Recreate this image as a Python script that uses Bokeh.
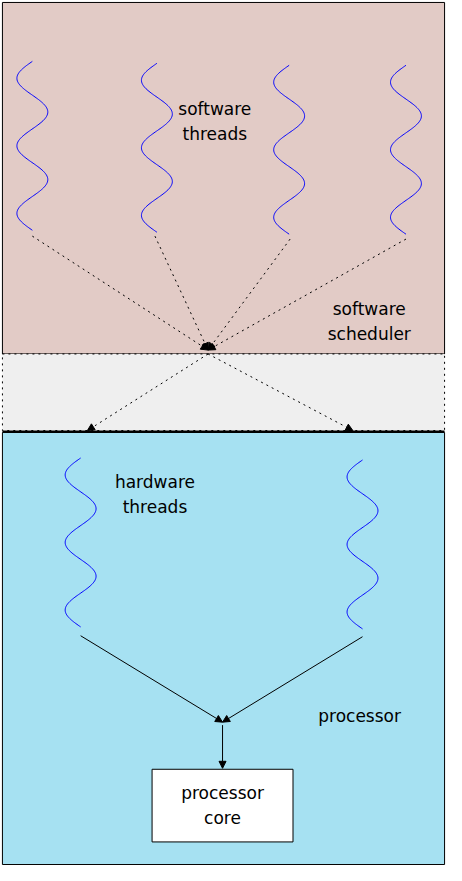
import numpy as np
from bokeh.core.properties import value
from bokeh.embed import file_html
from bokeh.models import Arrow, NormalHead, Range1d
from bokeh.plotting import figure
from bokeh.resources import INLINE

# regions: (top, bottom, colour)
region_tops = [2, 360, 440]
region_bottoms = [360, 438, 880]
region_colors = ["#e2cbc6", "#efefef", "#a6e1f2"]

# thread squiggles: x centre, y start, y end
sw_thread_x = [33, 162, 299, 420]
sw_thread_y0 = [62, 64, 66, 66]
sw_thread_y1 = [234, 236, 238, 238]
hw_thread_x = [83, 375]
hw_thread_y0 = [466, 468]
hw_thread_y1 = [638, 640]

# scheduler arrows (dotted)
sched_in_x = [33, 160, 300, 420]
sched_in_y = [240, 240, 243, 243]
sched_hub = (215, 356)
sched_out_x = [90, 365]
sched_out_y = [438, 438]

# processor arrows (solid)
proc_in_x = [83, 375]
proc_in_y = [647, 648]
proc_hub = (230, 735)

labels = ["software\nthreads", "software\nscheduler", "hardware\nthreads", "processor", "processor\ncore"]
label_x = [222, 382, 160, 372, 230]
label_y = [123, 327, 503, 729, 820]

p = figure(width=446, height=865, output_backend="svg", toolbar_location=None,
           x_range=Range1d(0, 462), y_range=Range1d(881, 0), min_border=0)
p.axis.visible = False
p.grid.visible = False
p.outline_line_color = None

for t, b, c in zip(region_tops, region_bottoms, region_colors):
    p.quad(left=2, right=460, top=t, bottom=b, fill_color=c, line_color="black",
           line_width=1, line_dash="dotted" if c == "#efefef" else "solid")
p.segment(x0=2, y0=439, x1=460, y1=439, line_color="black", line_width=2)


def squiggle(xc, y0, y1):
    y = np.linspace(y0, y1, 200)
    x = xc - 16 * np.sin((y - y0) / (y1 - y0) * 2.5 * 2 * np.pi)
    p.line(x, y, line_color="blue", line_width=1)


for xc, a, b in zip(sw_thread_x, sw_thread_y0, sw_thread_y1):
    squiggle(xc, a, b)
for xc, a, b in zip(hw_thread_x, hw_thread_y0, hw_thread_y1):
    squiggle(xc, a, b)


def arrow(x0, y0, x1, y1, dash="solid"):
    p.add_layout(Arrow(end=NormalHead(size=7, fill_color="black", line_color="black"),
                       x_start=x0, y_start=y0, x_end=x1, y_end=y1,
                       line_dash=dash, line_width=1))


for x, y in zip(sched_in_x, sched_in_y):
    arrow(x, y, sched_hub[0], sched_hub[1], "dotted")
for x, y in zip(sched_out_x, sched_out_y):
    arrow(sched_hub[0], sched_hub[1] + 4, x, y, "dotted")
for x, y in zip(proc_in_x, proc_in_y):
    arrow(x, y, proc_hub[0], proc_hub[1])
arrow(230, 738, 230, 782)

p.quad(left=157, right=303, top=783, bottom=857, fill_color="white", line_color="black")

p.text(x=label_x, y=label_y, text=labels, text_align="center", text_baseline="middle",
       text_font=value("DejaVu Sans"), text_font_size="17px", text_color="black",
       text_line_height=1.25)

open("out.html", "w").write(file_html(p, INLINE))
